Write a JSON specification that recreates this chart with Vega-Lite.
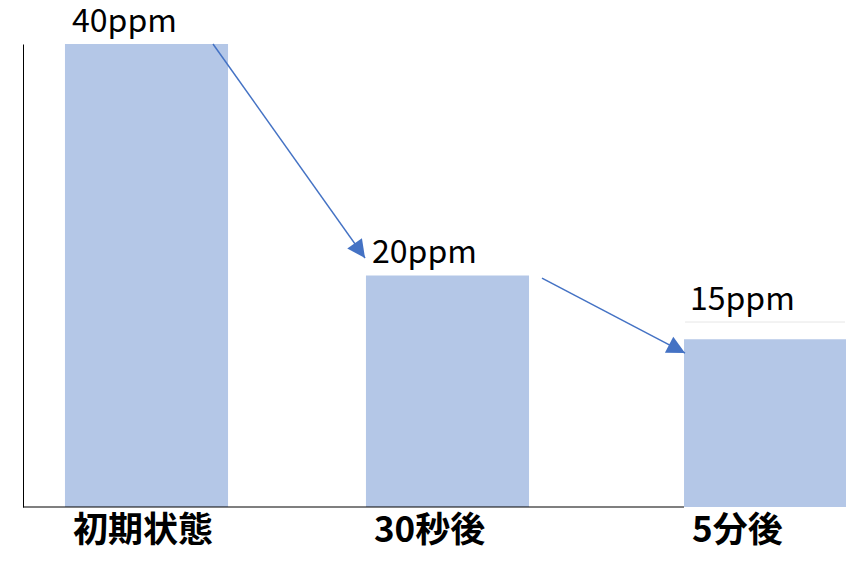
{
  "$schema": "https://vega.github.io/schema/vega-lite/v6.json",
  "description": "Concentration drop: 40ppm initially, 20ppm after 30s, 15ppm after 5 min.",
  "width": 841,
  "height": 463,
  "autosize": "none",
  "padding": {"left": 23, "top": 44, "right": 0, "bottom": 57},
  "background": "white",
  "datasets": {
    "bars": [
      {"step": "初期状態", "start": 4.99, "end": 24.38, "ppm": 40},
      {"step": "30秒後", "start": 40.78, "end": 60.17, "ppm": 20},
      {"step": "5分後", "start": 78.6, "end": 97.86, "ppm": 14.5}
    ],
    "labels": [
      {"text": "40ppm", "x": 5.83, "y": 41.04},
      {"text": "20ppm", "x": 41.5, "y": 21.08},
      {"text": "15ppm", "x": 79.31, "y": 17.02}
    ],
    "arrows": [
      {"x": 22.59, "y": 40, "x2": 40.67, "y2": 21.51, "heading": 144.6},
      {"x": 61.71, "y": 19.78, "x2": 78.72, "y2": 13.3, "heading": 117.7}
    ],
    "baseline": [
      {"x": 0, "x2": 78.6, "y": 0}
    ],
    "boxline": [
      {"x": 78.72, "x2": 97.75, "y": 15.98}
    ]
  },
  "layer": [
    {
      "data": {"name": "bars"},
      "mark": {"type": "rect", "color": "#B4C7E7"},
      "encoding": {
        "x": {"field": "start", "type": "quantitative", "scale": {"domain": [0, 100], "nice": false}, "axis": null},
        "x2": {"field": "end"},
        "y": {"field": "ppm", "type": "quantitative", "scale": {"domain": [0, 40], "nice": false}, "axis": {"domain": true, "domainColor": "#000000", "domainWidth": 1, "ticks": false, "labels": false, "grid": false, "title": null}},
        "y2": {"datum": 0}
      }
    },
    {
      "data": {"name": "baseline"},
      "mark": {"type": "rule", "color": "#000000", "strokeWidth": 1.2},
      "encoding": {
        "x": {"field": "x", "type": "quantitative"},
        "x2": {"field": "x2"},
        "y": {"field": "y", "type": "quantitative"}
      }
    },
    {
      "data": {"name": "boxline"},
      "mark": {"type": "rule", "color": "#E6E6E6", "strokeWidth": 1},
      "encoding": {
        "x": {"field": "x", "type": "quantitative"},
        "x2": {"field": "x2"},
        "y": {"field": "y", "type": "quantitative"}
      }
    },
    {
      "data": {"name": "bars"},
      "mark": {"type": "text", "align": "left", "baseline": "top", "dx": 8, "dy": 7, "font": "Noto Sans CJK JP", "fontWeight": "bold", "fontSize": 35, "color": "#000000"},
      "encoding": {
        "x": {"field": "start", "type": "quantitative"},
        "y": {"datum": 0},
        "text": {"field": "step"}
      }
    },
    {
      "data": {"name": "labels"},
      "mark": {"type": "text", "align": "left", "baseline": "alphabetic", "font": "Noto Sans CJK JP", "fontSize": 32, "color": "#000000"},
      "encoding": {
        "x": {"field": "x", "type": "quantitative"},
        "y": {"field": "y", "type": "quantitative"},
        "text": {"field": "text"}
      }
    },
    {
      "data": {"name": "arrows"},
      "mark": {"type": "rule", "color": "#4472C4", "strokeWidth": 1.5},
      "encoding": {
        "x": {"field": "x", "type": "quantitative"},
        "y": {"field": "y", "type": "quantitative"},
        "x2": {"field": "x2"},
        "y2": {"field": "y2"}
      }
    },
    {
      "data": {"name": "arrows"},
      "mark": {"type": "point", "shape": "M0,0L-1,2L1,2Z", "filled": true, "color": "#4472C4", "opacity": 1, "size": 324},
      "encoding": {
        "x": {"field": "x2", "type": "quantitative"},
        "y": {"field": "y2", "type": "quantitative"},
        "angle": {"field": "heading", "type": "quantitative", "scale": null}
      }
    }
  ],
  "config": {
    "view": {"stroke": null}
  }
}
